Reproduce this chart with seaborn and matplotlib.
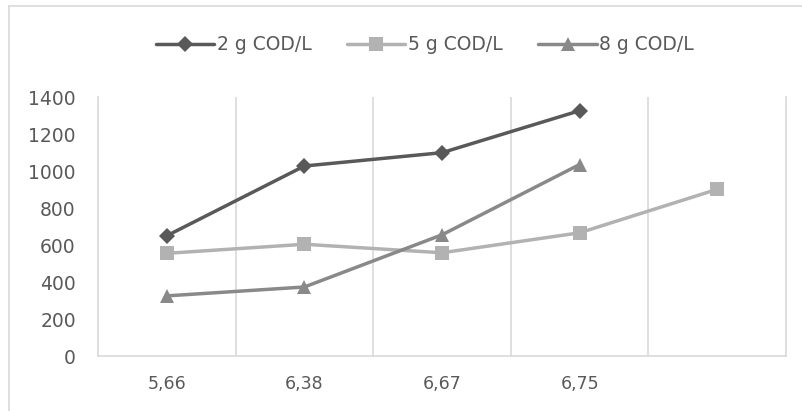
import numpy as np
import pandas as pd
import matplotlib.pyplot as plt
import seaborn as sns
from matplotlib.lines import Line2D

# data
categories = ["5,66", "6,38", "6,67", "6,75", ""]
cod_2 = [650, 1027, 1099, 1326, np.nan]
cod_5 = [555, 604, 558, 666, 901]
cod_8 = [325, 373, 655, 1035, np.nan]
series_names = ["2 g COD/L", "5 g COD/L", "8 g COD/L"]

df = pd.DataFrame({
    "x": categories * 3,
    "y": cod_2 + cod_5 + cod_8,
    "serie": np.repeat(series_names, len(categories)),
})

sns.set_style("white")
plt.rcParams['font.family'] = ['DejaVu Sans']

fig = plt.figure(figsize=(8.03, 4.11), dpi=100)
ax = fig.add_axes([98 / 803, 1 - 356 / 411, (786 - 98) / 803, (356 - 97) / 411])

palette = {"2 g COD/L": "#595959", "5 g COD/L": "#B2B2B2", "8 g COD/L": "#898989"}
markers = {"2 g COD/L": "D", "5 g COD/L": "s", "8 g COD/L": "^"}
sizes_ms = {"2 g COD/L": 8.5, "5 g COD/L": 10.5, "8 g COD/L": 10.5}

for name in series_names:
    sub = df[df["serie"] == name]
    sns.lineplot(data=sub, x="x", y="y", color=palette[name], marker=markers[name],
                 markersize=sizes_ms[name], markeredgewidth=0, linewidth=2.5,
                 label=name, ax=ax, sort=False)

ax.set_xlim(-0.5, 4.5)
ax.set_ylim(0, 1400)
ax.set_yticks(range(0, 1401, 200))
ax.set_xlabel("")
ax.set_ylabel("")

# vertical gridlines on category boundaries
for b in [0.5, 1.5, 2.5, 3.5]:
    ax.axvline(b, color="#D9D9D9", linewidth=1.2, zorder=0)

for side in ["left", "right", "bottom"]:
    ax.spines[side].set_color("#D9D9D9")
    ax.spines[side].set_linewidth(1.2)
ax.spines["top"].set_visible(False)

ax.tick_params(axis="y", length=0, pad=16, labelsize=13.5, labelcolor="#595959")
ax.tick_params(axis="x", length=0, pad=14, labelsize=12.5, labelcolor="#595959")

ax.get_legend().remove()
handles, labels = ax.get_legend_handles_labels()
fig.legend(handles, labels, loc="center", bbox_to_anchor=(425 / 803, 1 - 45 / 411),
           ncol=3, frameon=False, fontsize=13.5, handlelength=3.1, handletextpad=0.15,
           columnspacing=1.9, labelcolor="#595959")

# chart area border (top and left edges visible)
fig.add_artist(Line2D([9 / 803, 1], [1 - 6.5 / 411, 1 - 6.5 / 411], color="#D9D9D9",
                      linewidth=1.2, transform=fig.transFigure))
fig.add_artist(Line2D([9 / 803, 9 / 803], [0, 1 - 6.5 / 411], color="#D9D9D9",
                      linewidth=1.2, transform=fig.transFigure))

fig.savefig("out.png", dpi=100)
